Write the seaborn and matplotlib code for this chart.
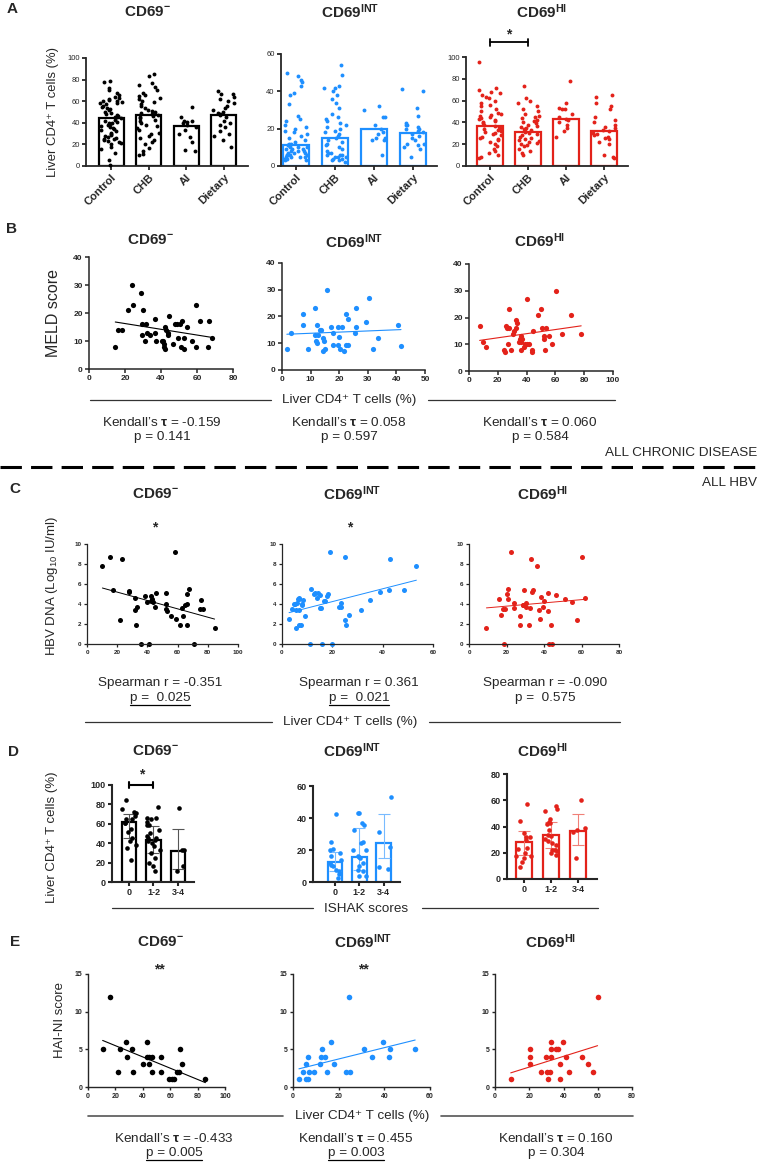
import matplotlib
matplotlib.use("Agg")
import matplotlib.pyplot as plt
from matplotlib.lines import Line2D
import numpy as np
import pandas as pd
import seaborn as sns

W, H = 763, 1162

BLACK = "#000000"
BLUE = "#1e8fff"
RED = "#e3221a"
TXT = 9.7  # size of the annotation / axis-label text

# ---------------- A: all groups, bars = mean ----------------
A_CATS = ["Control", "CHB", "AI", "Dietary"]
A_NEG_BARS = [44, 47.5, 37, 47]
A_INT_BARS = [11.5, 15, 20, 17.5]
A_HI_BARS = [37, 31, 43, 32]

A_NEG_CONTROL = [79, 78, 72, 70, 68, 66, 64, 63, 62, 61, 60, 60, 59, 58, 58, 57, 56, 55, 54, 53,
                 52, 50, 49, 48, 47, 46, 45, 45, 44, 43, 42, 41, 40, 40, 39, 38, 37, 36, 35, 34,
                 33, 32, 31, 30, 29, 28, 27, 26, 25, 25, 24, 23, 22, 21, 20, 18, 16, 12, 6, 1]
A_NEG_CHB = [85, 83, 77, 75, 73, 70, 68, 66, 65, 63, 62, 60, 59, 57, 56, 54, 52, 51, 50, 49,
             48, 47, 46, 45, 44, 43, 42, 40, 38, 37, 35, 33, 31, 30, 28, 26, 24, 22, 20, 17, 14, 11, 10]
A_NEG_AI = [55, 45, 42, 42, 41, 40, 38, 36, 33, 30, 27, 22, 15, 14]
A_NEG_DIET = [69, 67, 67, 64, 62, 60, 58, 56, 54, 52, 50, 49, 48, 47, 45, 42, 40, 38, 36, 32,
              30, 28, 24, 18]

A_INT_CONTROL = [50, 48, 46, 45, 43, 39, 38, 33, 27, 25, 24, 22, 21, 20, 19, 18, 17, 16, 15, 14,
                 13, 12, 12, 11, 11, 10, 10, 10, 9, 9, 9, 8, 8, 8, 7, 7, 7, 6, 6, 6, 6, 5, 5, 5,
                 5, 4, 4, 4, 3, 3]
A_INT_CHB = [54, 49, 43, 42, 42, 40, 38, 36, 34, 31, 28, 26, 25, 24, 23, 22, 21, 20, 19, 18,
             17, 16, 15, 14, 13, 12, 11, 10, 9, 8, 7, 7, 6, 6, 6, 5, 5, 5, 4, 4, 3, 3, 2]
A_INT_AI = [32, 30, 26, 26, 22, 20, 18, 17, 15, 15, 14, 14, 6]
A_INT_DIET = [41, 40, 31, 27, 23, 22, 22, 21, 20, 20, 19, 18, 17, 16, 15, 14, 12, 12, 11, 10, 9, 5]

A_HI_CONTROL = [95, 72, 70, 68, 67, 65, 63, 62, 60, 58, 56, 55, 52, 50, 49, 48, 47, 46, 45, 44,
                43, 42, 41, 40, 39, 38, 37, 36, 35, 34, 33, 32, 31, 30, 29, 28, 27, 26, 25, 24,
                22, 20, 18, 16, 14, 12, 10, 8, 7]
A_HI_CHB = [73, 62, 60, 58, 55, 52, 50, 48, 46, 45, 44, 42, 41, 40, 39, 38, 37, 36, 35, 34,
            33, 32, 31, 30, 29, 28, 27, 26, 25, 24, 23, 22, 21, 20, 19, 18, 16, 14, 12, 10]
A_HI_AI = [78, 58, 53, 52, 52, 48, 45, 43, 42, 40, 38, 35, 32, 27]
A_HI_DIET = [65, 63, 58, 55, 52, 45, 42, 40, 38, 36, 35, 33, 32, 30, 29, 28, 27, 26, 25, 22,
             20, 10, 8, 7]

# ---------------- B: MELD vs liver CD4 (all chronic disease) ----------------
B_NEG_X = [14.6, 16.1, 18.3, 21.5, 23.9, 24.4, 29.1, 30, 29.6, 31.9, 29.6, 30.9, 32.2, 34, 36.7,
           36.7, 37, 40.4, 41.1, 41.5, 41.8, 42.2, 42.4, 43, 43.7, 44, 44.4, 46.7, 47.6, 48.9,
           49.6, 50.4, 51.3, 51.9, 53, 53, 54.7, 57.2, 59.6, 59.3, 61.7, 66.1, 66.9, 68.5]
B_NEG_Y = [8, 14, 14, 21, 30, 23, 27, 21, 16, 16, 12, 10, 13, 12, 18,
           13, 10, 10, 10, 9, 8, 7, 15, 14, 13, 12, 19, 9, 16, 16,
           11, 16, 8, 17, 7, 11, 15, 10, 23, 8, 17, 8, 17, 11]
B_INT_X = [1.7, 3.1, 7.5, 7.5, 9, 11.5, 11.5, 11.9, 12.1, 12.7, 12.3, 13.3, 13.8, 14.2, 14.2,
           14.6, 15, 15.8, 17.3, 17.8, 17.9, 19.6, 20, 19.6, 20.2, 21.1, 21.8, 22.3, 22.5, 23,
           23.2, 25.9, 25.4, 25.7, 29.4, 30.3, 31.7, 33.7, 40.4, 41.6]
B_INT_Y = [8, 14, 21, 17, 8, 23, 13, 11, 10, 13, 17, 15, 15, 12, 7,
           11, 8, 30, 16, 14, 9.5, 16, 12.5, 9.5, 8, 16, 7, 21, 9.5, 19,
           9.5, 23, 14, 16, 18, 27, 8, 12, 17, 9]
B_HI_X = [7.4, 9.8, 11.6, 24.4, 25, 25.6, 26.5, 27.7, 27.4, 27.9, 29.3, 30.7, 31.2, 32.3, 32.6,
          33.5, 34.9, 35.3, 35.8, 36.5, 35.8, 36.3, 38.1, 38.8, 40, 40.5, 41.4, 43.5, 43.5, 44.2,
          47.9, 50, 50.7, 51.9, 52.1, 53, 53.7, 55.3, 57.7, 60.5, 64.4, 70.9, 77.9]
B_HI_Y = [17, 11, 9, 8, 7, 17, 16, 23, 10, 16, 8, 14, 15, 16, 19,
          18, 11, 12, 13, 12, 8, 11, 9, 10, 10, 27, 10, 8, 7, 15,
          21, 23, 16, 12, 13, 8, 16, 13, 10, 30, 14, 21, 14]

# ---------------- C: HBV DNA vs liver CD4 (all HBV) ----------------
C_NEG_X = [10.2, 15.2, 23, 17.2, 27.6, 58.5, 21.6, 27.9, 31.6, 31.6, 32.3, 33.3, 36, 38.6, 39.5,
           41.1, 42.2, 42.6, 43.3, 43.7, 45.7, 45.3, 52.5, 52.5, 52.5, 53, 55.3, 58.7, 61.4, 63.2,
           63.8, 64.9, 66, 66.4, 66.4, 67.3, 70.6, 75.3, 75.1, 76.8, 84.5]
C_NEG_Y = [7.8, 8.7, 8.5, 5.4, 5.3, 9.2, 2.4, 5.2, 4.6, 3.4, 1.9, 3.7, 0, 4.8, 4.2,
           0, 4.3, 4.8, 4.5, 4.2, 5.1, 3.7, 5.1, 4, 3.5, 3.3, 2.8, 2.5, 1.9, 3.6,
           2.8, 3.9, 4, 1.9, 5, 5.5, 0, 4.4, 3.5, 3.5, 1.6]
C_INT_X = [2.8, 4, 4.6, 5.4, 5.7, 6, 6.6, 6.9, 6.9, 7.7, 7.9, 8.3, 9.1, 11, 15.9,
           20, 5.3, 6.4, 6.9, 7.9, 11.7, 13.2, 14.2, 15.2, 18.1, 16.6, 19.2, 25.2, 12.6, 13.9,
           15, 15.5, 17.2, 17.9, 22.5, 23.4, 23.4, 25.2, 25.4, 26.5, 31.4, 34.8, 43, 53.4, 42.6,
           48.6, 39]
C_INT_Y = [2.5, 3.5, 4, 1.6, 3.4, 4.1, 3.4, 1.9, 4.5, 1.9, 3.9, 4.4, 2.8, 0, 0,
           0, 4, 4.5, 4.6, 4, 5.5, 5.1, 5.1, 4.9, 5, 4.3, 9.2, 8.7, 5, 4.6,
           3.6, 3.6, 4.3, 4.8, 3.7, 4.1, 3.7, 2.4, 1.9, 2.9, 3.4, 4.4, 8.5, 7.8, 5.4,
           5.4, 5.2]
C_HI_X = [22.3, 33, 36.4, 60, 20.9, 20.5, 20.9, 16.1, 29.5, 33.4, 34.3, 42, 46.4, 38.6, 51.3,
          55, 61.8, 23.8, 29, 30.2, 40.2, 9.3, 17, 18.2, 19.1, 18.6, 23.9, 27.1, 27.1, 28.9,
          30.2, 31.8, 32.5, 37.1, 38, 39.3, 42, 42.7, 44.3, 43.6, 57.5]
C_HI_Y = [9.2, 8.5, 7.8, 8.7, 5.5, 5, 4.5, 4.5, 5.4, 5.2, 5.4, 5.1, 4.9, 4.7, 4.5,
          4.2, 4.6, 4.1, 3.9, 4.1, 4.3, 1.6, 2.9, 3.5, 3.5, 0, 3.6, 2.8, 1.9, 3.9,
          3.7, 1.9, 3.6, 3.4, 2.5, 3.7, 3.3, 0, 0, 1.9, 2.4]

# ---------------- D: ISHAK fibrosis groups, bars with error ----------------
D_CATS = ["0", "1-2", "3-4"]
D_NEG_BARS = [62, 43.5, 31.5]
D_NEG_LO = [45, 30, 13.5]
D_NEG_HI = [70, 58, 55]
D_INT_BARS = [12.8, 15.5, 24.6]
D_INT_LO = [7, 7.5, 15]
D_INT_HI = [19, 34, 42.4]
D_HI_BARS = [28.2, 33.8, 36.5]
D_HI_LO = [18.5, 23.6, 26]
D_HI_HI = [36.3, 43.4, 49.5]

D_NEG_0 = [85, 75, 72, 71, 68.5, 65, 65, 60.6, 60.6, 54.5, 52, 45, 41.8, 38.4, 35, 22.3]
D_NEG_12 = [77, 66.4, 66.4, 64.7, 62.3, 59, 59, 53.8, 51, 47.6, 45.2, 45.2, 43.5, 41.8, 40,
            36.6, 33, 29.8, 24.7, 19.5, 16, 11]
D_NEG_34 = [76, 33, 33, 16, 11]
D_INT_0 = [42.4, 25.3, 20.5, 20, 18, 16, 13.9, 11.8, 10.8, 9.7, 7.7, 6.6, 2.5, 5]
D_INT_12 = [42.9, 42.9, 37, 35.6, 32.5, 25.3, 24.2, 20, 20, 16, 14.9, 15.5, 11.8, 9.7, 7.7,
            6.6, 3.9, 3.5]
D_INT_34 = [53.2, 31, 22, 8.3, 9.5]
D_HI_0 = [57.4, 44.4, 35, 31.7, 31.7, 30, 23.6, 22.8, 19.8, 17.8, 17.8, 16, 12.7, 9.1]
D_HI_12 = [55.3, 53.6, 51.5, 45.9, 43.4, 42.6, 41.9, 37.6, 33.8, 32.5, 30.5, 28.7, 27.4, 26.1,
           22.3, 21.8, 21, 19.8, 18.5]
D_HI_34 = [59.9, 37, 38.8, 35.8, 16]

# ---------------- E: HAI-NI vs liver CD4 ----------------
E_NEG_X = [16.1, 10.7, 22.1, 23.6, 27.9, 28.6, 32.1, 32.9, 40.4, 42.9, 42.9, 44.6, 44.6, 46.4,
           46.4, 53.6, 53.6, 58.9, 61.4, 62.5, 65, 66.1, 67.1, 68.6, 85.7]
E_NEG_Y = [12, 5, 2, 5, 6, 4, 5, 2, 3, 6, 4, 4, 3, 4, 2, 4, 2, 1, 1, 1, 2, 2, 5, 3, 1]
E_INT_X = [2.6, 4.3, 5.6, 5.6, 6.4, 6.4, 7.1, 9.2, 11.8, 12.4, 12.8, 13.9, 15, 16.5, 17.8,
           23.1, 24.6, 24.8, 31, 34.7, 39.6, 42.4, 42.2, 53.5]
E_INT_Y = [1, 2, 3, 1, 4, 1, 2, 2, 3, 4, 5, 4, 2, 6, 3, 2, 12, 2, 5, 4, 6, 5, 4, 5]
E_HI_X = [9.2, 20.5, 20.5, 20.5, 29.5, 26.9, 30.1, 31.2, 32.1, 32.7, 32.7, 32.7, 35.8, 37,
          37.8, 37.8, 39.8, 41.5, 43, 50.7, 54.4, 57, 59.9]
E_HI_Y = [1, 5, 4, 3, 4, 2, 2, 1, 2, 6, 5, 4, 5, 5, 3, 1, 6, 4, 2, 4, 3, 2, 12]


sns.set_style("ticks")
plt.rcParams["font.family"] = ["Liberation Sans", "DejaVu Sans"]
plt.rcParams["mathtext.fontset"] = "custom"
plt.rcParams["mathtext.rm"] = "Liberation Sans"
plt.rcParams["mathtext.bf"] = "Liberation Sans:bold"
plt.rcParams["mathtext.it"] = "Liberation Sans:italic"

fig = plt.figure(figsize=(W / 100, H / 100), dpi=100)
fig.patch.set_facecolor("white")


def add_ax(l, t, r, b):
    # box given in pixels from the top-left corner
    return fig.add_axes([l / W, 1 - b / H, (r - l) / W, (b - t) / H])


def ftext(x, y, s, **kw):
    kw.setdefault("ha", "center")
    kw.setdefault("va", "center")
    return fig.text(x / W, 1 - y / H, s, **kw)


def fline(x0, x1, y, **kw):
    fig.add_artist(Line2D([x0 / W, x1 / W], [1 - y / H, 1 - y / H],
                          transform=fig.transFigure, **kw))


def style(ax, lw, size, bold=True):
    sns.despine(ax=ax)
    ax.spines["left"].set_linewidth(lw)
    ax.spines["bottom"].set_linewidth(lw)
    ax.tick_params(width=lw, length=3, labelsize=size, pad=1.5)
    for lab in ax.get_xticklabels() + ax.get_yticklabels():
        lab.set_fontweight("bold" if bold else "normal")
    ax.set_xlabel("")
    ax.set_ylabel("")
    ax.set_facecolor("none")


def bar_strip(ax, cats, groups, heights, color, width, dot, err=None, ecolor=None):
    df = pd.DataFrame({"group": np.repeat(cats, [len(g) for g in groups]),
                       "value": np.concatenate(groups)})
    sns.barplot(x=cats, y=heights, order=cats, color="white", edgecolor=color,
                linewidth=1.6, width=width, errorbar=None, ax=ax)
    if err is not None:
        lo, hi = err
        ax.errorbar(np.arange(len(cats)), heights,
                    yerr=[np.subtract(heights, lo), np.subtract(hi, heights)],
                    fmt="none", ecolor=ecolor, elinewidth=0.8, capsize=4, capthick=0.8,
                    zorder=3)
    sns.stripplot(data=df, x="group", y="value", order=cats, color=color, size=dot,
                  jitter=0.3, linewidth=0, clip_on=False, zorder=4, ax=ax)


def scatter_reg(ax, x, y, color, s, lw):
    df = pd.DataFrame({"x": x, "y": y})
    sns.regplot(data=df, x="x", y="y", ci=None, color=color, truncate=True,
                scatter_kws={"s": s, "linewidths": 0, "alpha": 1, "clip_on": False},
                line_kws={"lw": lw}, ax=ax)


def title(x, y, sup):
    ftext(x, y, r"$\mathbf{CD69^{%s}}$" % sup, fontsize=11)


# ================= Panel A =================
ftext(12, 9, "A", fontsize=11, fontweight="bold")
title(147, 12, "-")
title(350, 12, "INT")
title(542, 12, "HI")

a_specs = [
    ((86, 58, 248, 166), [A_NEG_CONTROL, A_NEG_CHB, A_NEG_AI, A_NEG_DIET], A_NEG_BARS, BLACK,
     (0, 100), np.arange(0, 101, 20), (-0.67, 3.65)),
    ((281, 54, 437, 166), [A_INT_CONTROL, A_INT_CHB, A_INT_AI, A_INT_DIET], A_INT_BARS, BLUE,
     (0, 60), np.arange(0, 61, 20), (-0.39, 3.62)),
    ((466, 57, 628, 166), [A_HI_CONTROL, A_HI_CHB, A_HI_AI, A_HI_DIET], A_HI_BARS, RED,
     (0, 100), np.arange(0, 101, 20), (-0.63, 3.63)),
]
a_axes = []
for box, groups, bars, col, ylim, yt, xlim in a_specs:
    ax = add_ax(*box)
    bar_strip(ax, A_CATS, groups, bars, col, 0.67, 2.8)
    ax.set_ylim(*ylim)
    ax.set_yticks(yt)
    ax.set_xlim(*xlim)
    style(ax, 1.3, 5.5, bold=False)
    ax.set_xticks(range(len(A_CATS)))
    ax.set_xticklabels(A_CATS, rotation=45, ha="right", rotation_mode="anchor",
                       fontsize=8, fontweight="bold")
    a_axes.append(ax)

# significance bracket Control vs CHB on CD69HI
ax = a_axes[2]
ax.plot([0, 1], [113.5, 113.5], color=BLACK, lw=1.3, clip_on=False)
for xi in (0, 1):
    ax.plot([xi, xi], [110.5, 116.5], color=BLACK, lw=1.3, clip_on=False)
ax.text(0.5, 121, "*", ha="center", va="center", fontsize=10, fontweight="bold")
ftext(53, 112, "Liver CD4⁺ T cells (%)", fontsize=9.4, rotation=90)

# ================= Panel B =================
ftext(12, 229, "B", fontsize=11, fontweight="bold")
title(150, 240, "-")
title(354, 242, "INT")
title(540, 241, "HI")
b_specs = [
    ((89, 257, 233, 369), B_NEG_X, B_NEG_Y, BLACK, 80, 20),
    ((282, 263, 425, 370), B_INT_X, B_INT_Y, BLUE, 50, 10),
    ((469, 264, 613, 371), B_HI_X, B_HI_Y, RED, 100, 20),
]
for box, x, y, col, xmax, step in b_specs:
    ax = add_ax(*box)
    scatter_reg(ax, x, y, col, 14, 0.8)
    ax.set_xlim(0, xmax)
    ax.set_xticks(np.arange(0, xmax + 1, step))
    ax.set_ylim(0, 40)
    ax.set_yticks(np.arange(0, 41, 10))
    style(ax, 1.1, 6)
ftext(53, 313, "MELD score", fontsize=11.5, rotation=90)

fline(90, 271, 400, color="#333333", lw=0.9)
fline(428, 615, 400, color="#333333", lw=0.9)
ftext(349, 400, "Liver CD4⁺ T cells (%)", fontsize=TXT)
for xc, tau, p in [(162, "-0.159", "0.141"), (349, "0.058", "0.597"), (540, "0.060", "0.584")]:
    ftext(xc, 422, r"Kendall’s $\mathbf{\tau}$ = " + tau, fontsize=TXT)
    ftext(xc, 437, "p = " + p, fontsize=TXT)

ftext(757, 453, "ALL CHRONIC DISEASE", fontsize=TXT, ha="right")
fig.add_artist(Line2D([0, 1], [1 - 467 / H] * 2, transform=fig.transFigure,
                      color=BLACK, lw=2.2, dashes=(7, 3)))
ftext(757, 483, "ALL HBV", fontsize=TXT, ha="right")

# ================= Panel C =================
ftext(15, 489, "C", fontsize=11, fontweight="bold")
title(155, 494, "-")
title(352, 494, "INT")
title(543, 494, "HI")
ftext(155, 527, "*", fontsize=10, fontweight="bold")
ftext(350, 527, "*", fontsize=10, fontweight="bold")
c_specs = [
    ((87, 544, 238, 644), C_NEG_X, C_NEG_Y, BLACK, 100),
    ((282, 544, 433, 644), C_INT_X, C_INT_Y, BLUE, 60),
    ((469, 544, 619, 644), C_HI_X, C_HI_Y, RED, 80),
]
for box, x, y, col, xmax in c_specs:
    ax = add_ax(*box)
    scatter_reg(ax, x, y, col, 13, 0.7)
    ax.set_xlim(0, xmax)
    ax.set_xticks(np.arange(0, xmax + 1, 20))
    ax.set_ylim(0, 10)
    ax.set_yticks(np.arange(0, 11, 2))
    style(ax, 0.9, 4.5)
    ax.tick_params(length=2.5)
ftext(52, 586, "HBV DNA (Log$_{10}$ IU/ml)", fontsize=9.5, rotation=90)

underlined = []
for xc, r, p, und in [(160, "-0.351", "0.025", True), (359, "0.361", "0.021", True),
                      (545, "-0.090", "0.575", False)]:
    ftext(xc, 683, "Spearman r = " + r, fontsize=TXT)
    t = ftext(xc, 698, "p =  " + p, fontsize=TXT)
    if und:
        underlined.append(t)
fline(85, 272, 722, color="#333333", lw=0.9)
fline(429, 620, 722, color="#333333", lw=0.9)
ftext(350, 722, "Liver CD4⁺ T cells (%)", fontsize=TXT)

# ================= Panel D =================
ftext(13, 752, "D", fontsize=11, fontweight="bold")
title(155, 751, "-")
title(352, 751, "INT")
title(543, 751, "HI")
d_specs = [
    ((112, 785, 194, 882), [D_NEG_0, D_NEG_12, D_NEG_34], D_NEG_BARS, (D_NEG_LO, D_NEG_HI),
     BLACK, "#555555", 100, (-0.69, 2.65)),
    ((313, 786, 400, 882), [D_INT_0, D_INT_12, D_INT_34], D_INT_BARS, (D_INT_LO, D_INT_HI),
     BLUE, "#79bbff", 60, (-0.9, 2.67)),
    ((507, 774, 597, 879), [D_HI_0, D_HI_12, D_HI_34], D_HI_BARS, (D_HI_LO, D_HI_HI),
     RED, "#f08078", 80, (-0.63, 2.7)),
]
d_axes = []
for box, groups, bars, err, col, ecol, ymax, xlim in d_specs:
    ax = add_ax(*box)
    bar_strip(ax, D_CATS, groups, bars, col, 0.6, 3.3, err=err, ecolor=ecol)
    ax.set_ylim(0, ymax)
    ax.set_yticks(np.arange(0, ymax + 1, 20))
    ax.set_xlim(*xlim)
    style(ax, 1.5, 6.5)
    d_axes.append(ax)
ax = d_axes[0]
ax.plot([0, 1], [100, 100], color=BLACK, lw=1.5, clip_on=False)
for xi in (0, 1):
    ax.plot([xi, xi], [97, 103], color=BLACK, lw=1.5, clip_on=False)
ax.text(0.5, 111, "*", ha="center", va="center", fontsize=10, fontweight="bold")
ftext(52, 837, "Liver CD4⁺ T cells (%)", fontsize=9.5, rotation=90)
fline(112, 313, 908, color="#333333", lw=0.9)
fline(422, 598, 908, color="#333333", lw=0.9)
ftext(366, 909, "ISHAK scores", fontsize=TXT)

# ================= Panel E =================
ftext(15, 942, "E", fontsize=11, fontweight="bold")
title(160, 942, "-")
title(363, 942, "INT")
title(551, 942, "HI")
ftext(159, 969, "**", fontsize=10, fontweight="bold")
ftext(363, 969, "**", fontsize=10, fontweight="bold")
e_specs = [
    ((88, 974, 225, 1087), E_NEG_X, E_NEG_Y, BLACK, 100),
    ((293, 974, 430, 1087), E_INT_X, E_INT_Y, BLUE, 60),
    ((495, 974, 632, 1087), E_HI_X, E_HI_Y, RED, 80),
]
for box, x, y, col, xmax in e_specs:
    ax = add_ax(*box)
    scatter_reg(ax, x, y, col, 16, 0.8)
    ax.set_xlim(0, xmax)
    ax.set_xticks(np.arange(0, xmax + 1, 20))
    ax.set_ylim(0, 15)
    ax.set_yticks([0, 5, 10, 15])
    style(ax, 1.0, 5)
    ax.tick_params(length=2.5)
ftext(60, 1020, "HAI-NI score", fontsize=9.5, rotation=90)
fline(88, 283, 1116, color="#555555", lw=1.2)
fline(441, 633, 1116, color="#555555", lw=1.2)
ftext(362, 1116, "Liver CD4⁺ T cells (%)", fontsize=TXT)
for xc, tau, p, und in [(174, "-0.433", "0.005", True), (356, "0.455", "0.003", True),
                        (556, "0.160", "0.304", False)]:
    ftext(xc, 1139, r"Kendall’s $\mathbf{\tau}$ = " + tau, fontsize=TXT)
    t = ftext(xc, 1153, "p = " + p, fontsize=TXT)
    if und:
        underlined.append(t)

# underline the significant p-values
fig.canvas.draw()
renderer = fig.canvas.get_renderer()
for t in underlined:
    bb = t.get_window_extent(renderer)
    y = (bb.y0 - 0.5) / fig.bbox.height
    fig.add_artist(Line2D([bb.x0 / fig.bbox.width, bb.x1 / fig.bbox.width], [y, y],
                          transform=fig.transFigure, color=BLACK, lw=0.9))

fig.savefig("out.png", dpi=100, facecolor="white")
plt.close(fig)
